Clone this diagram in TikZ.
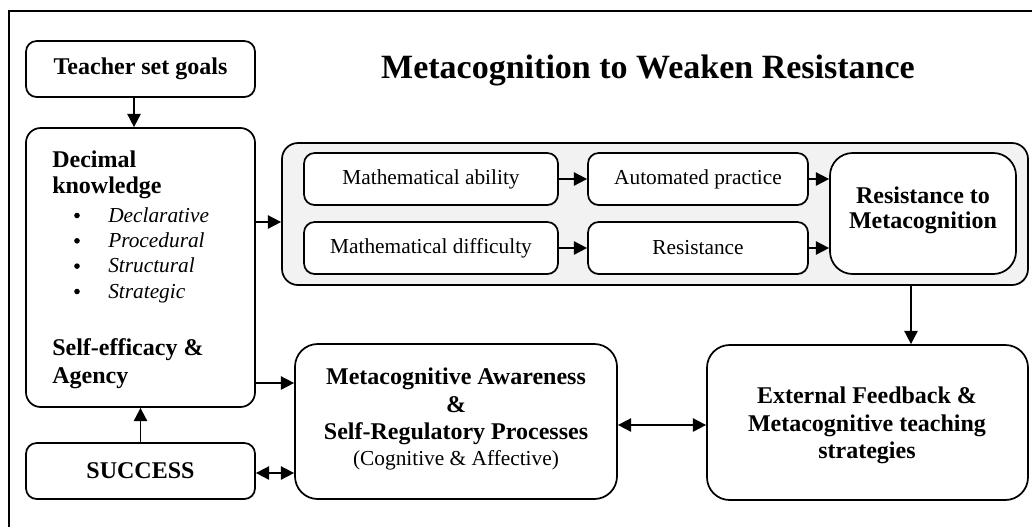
\documentclass[tikz,border=0pt]{standalone}
\usepackage{fontspec}
\setmainfont{Liberation Serif}
\usetikzlibrary{arrows.meta,calc}
\definecolor{greyfill}{HTML}{F2F2F2}
\newcommand\pxbox[7]{\node[#6, minimum width={(#4-#2)*0.75pt}, minimum height={(#5-#3)*0.75pt}] (#1) at ({(#2+#4)/2},{(#3+#5)/2}) {#7};}
\begin{document}
\begin{tikzpicture}[x=0.75pt,y=-0.75pt,
  boxstyle/.style={draw=black, line width=1.3pt, inner sep=0pt, align=center, fill=white},
  r1/.style={boxstyle, rounded corners=8pt},
  r2/.style={boxstyle, rounded corners=11pt},
  r3/.style={boxstyle, rounded corners=17pt},
  greybox/.style={draw=black, line width=1.3pt, inner sep=0pt, fill=greyfill, rounded corners=12pt},
  tip/.style={},
  arr/.style={line width=1.3pt, -{Triangle[length=10pt,width=10pt]}},
  darr/.style={line width=1.3pt, {Triangle[length=10pt,width=10pt]}-{Triangle[length=10pt,width=10pt]}},
  bfnt/.style={font=\fontsize{18}{20}\selectfont\bfseries},
  rfnt/.style={font=\fontsize{16}{19}\selectfont},
  boldtxt/.style={bfnt, inner sep=0pt, anchor=base west},
  ittxt/.style={font=\fontsize{16}{19}\selectfont\itshape, inner sep=0pt, anchor=base west},
  bul/.style={circle, fill=black, inner sep=0pt, minimum size=4.2pt},
  multi/.style={inner sep=0pt, align=center}
]
\useasboundingbox (0,0) rectangle (1032,526);
\clip (0,0) rectangle (1032,526);
% outer frame
\draw[line width=2.1pt] (9,540) -- (9,11) -- (1045,11);
% title
\node[font=\fontsize{25.5}{30}\selectfont\bfseries, inner sep=0pt] (title) at (648,70) {Metacognition to Weaken Resistance};
% left column
\pxbox{teacher}{26}{41}{255}{97}{r1,bfnt}{Teacher set goals}
\pxbox{dk}{26}{128}{255}{407}{r2}{}
\pxbox{success}{26}{443}{255}{499}{r1,bfnt}{SUCCESS}
% decimal knowledge text
\node[boldtxt] (dk1) at (52,167) {Decimal};
\node[boldtxt] (dk2) at (52,193) {knowledge};
\foreach \t/\y [count=\i] in {Declarative/222,Procedural/247.3,Structural/272.6,Strategic/298}{
  \node[bul] (bu\i) at (77,\y-6.5) {};
  \node[ittxt] (it\i) at (108,\y) {\t};
}
\node[boldtxt] (se1) at (52,355) {Self-efficacy \&};
\node[boldtxt] (se2) at (52,383) {Agency};
% grey container
\pxbox{grey}{282}{143}{1028}{285}{greybox}{}
\pxbox{ma}{304}{153}{558}{205}{r1,rfnt}{Mathematical ability}
\pxbox{md}{304}{222}{558}{274}{r1,rfnt}{Mathematical difficulty}
\pxbox{ap}{588}{153}{808}{205}{r1,rfnt}{Automated practice}
\pxbox{rs}{588}{222}{808}{274}{r1,rfnt}{Resistance}
\pxbox{rtm}{830}{153}{1016}{274}{r3}{}
\node[multi, font=\fontsize{18}{18.75}\selectfont\bfseries] (rtmt) at (923,210.5) {Resistance to\\Metacognition};
% bottom boxes
\pxbox{meta}{295}{344}{617}{499}{r3}{}
\node[multi, font=\fontsize{18}{20.4}\selectfont\bfseries] (metat) at (456,419) {Metacognitive Awareness\\\&\\Self-Regulatory Processes\\[-1pt]\normalfont\fontsize{16}{19.5}\selectfont(Cognitive \& Affective)};
\pxbox{ext}{707}{345}{1028}{500}{r3}{}
\node[multi, font=\fontsize{18}{20.6}\selectfont\bfseries] (extt) at (867,425.5) {External Feedback \&\\Metacognitive teaching\\strategies};
% connectors
\draw[arr] (teacher.south -| 134,0) -- (dk.north -| 134,0);
\draw[arr] (success.north) -- (dk.south);
\draw[arr] (dk.east |- 0,222) -- (grey.west |- 0,222);
\draw[arr] (ma.east) -- (ap.west);
\draw[arr] (md.east) -- (rs.west);
\draw[arr] (ap.east) -- (ap.east -| rtm.west);
\draw[arr] (rs.east) -- (rs.east -| rtm.west);
\draw[arr] (grey.south -| 911,0) -- (ext.north -| 911,0);
\draw[arr] (dk.east |- 0,383) -- (meta.west |- 0,383);
\draw[darr] (success.east |- 0,473) -- (meta.west |- 0,473);
\draw[darr] (meta.east |- 0,425) -- (ext.west |- 0,425);
\end{tikzpicture}
\end{document}
